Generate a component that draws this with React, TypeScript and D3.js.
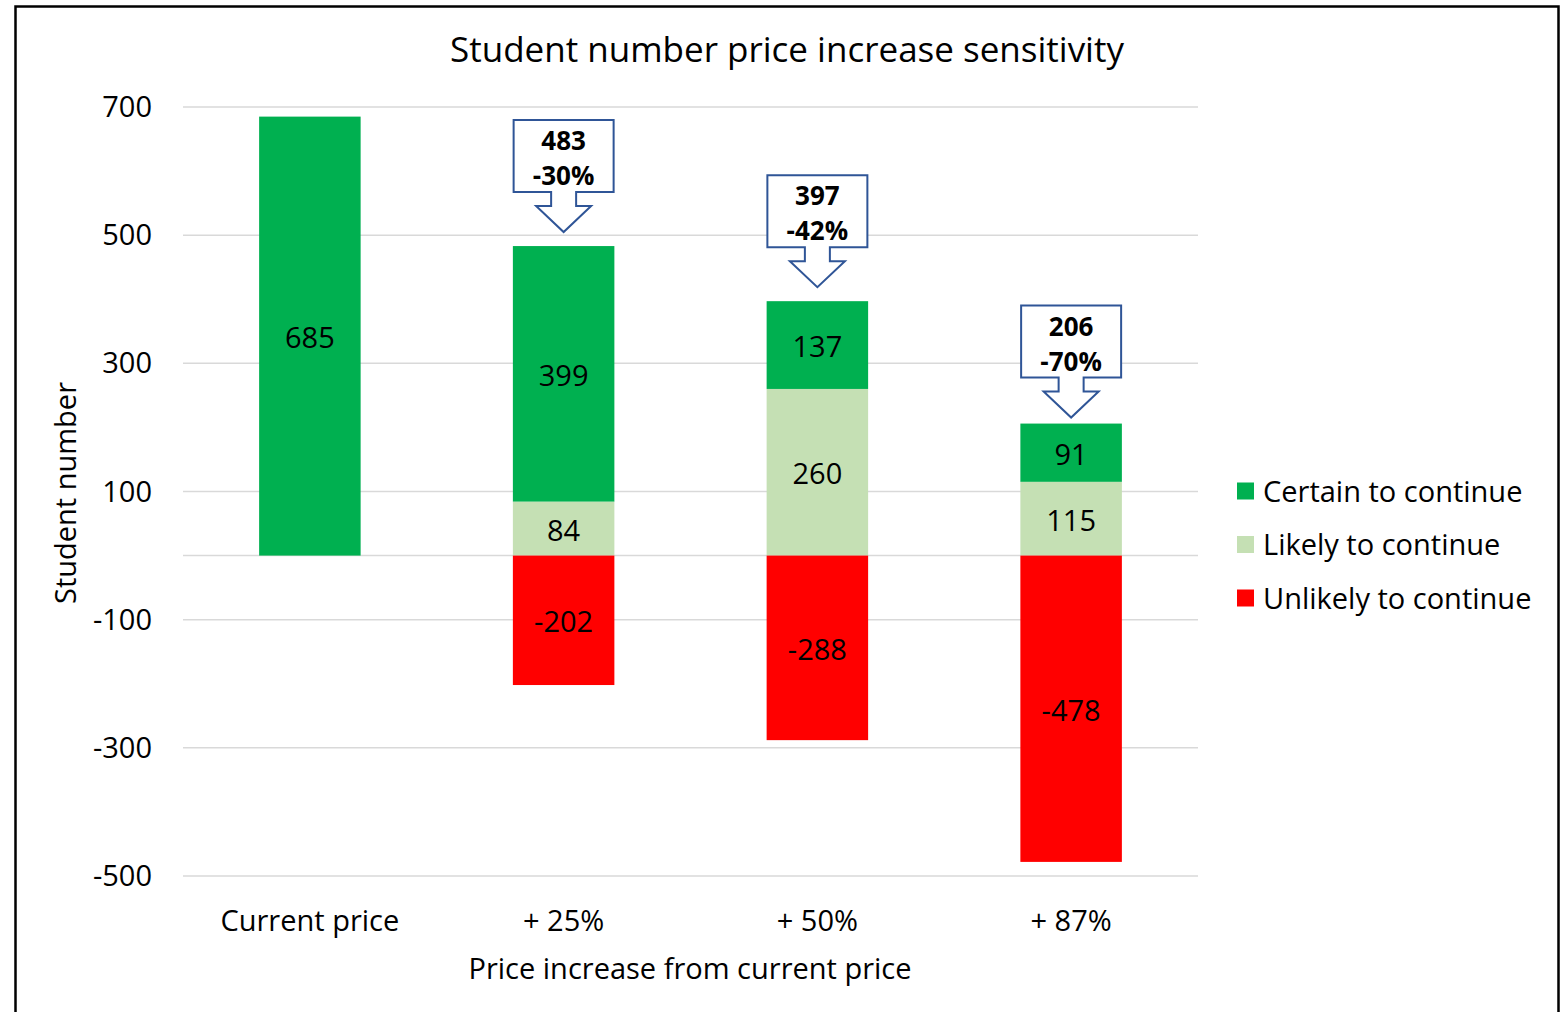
import React from "react";
import * as d3 from "d3";

const categories = ["Current price", "+ 25%", "+ 50%", "+ 87%"];
const certain = [685, 399, 137, 91];
const likely = [0, 84, 260, 115];
const unlikely = [0, -202, -288, -478];
const totals = [null, 483, 397, 206];
const changes = [null, "-30%", "-42%", "-70%"];
const yTicks = [700, 500, 300, 100, -100, -300, -500];
const seriesNames = ["Certain to continue", "Likely to continue", "Unlikely to continue"];
const seriesColors = ["#00B050", "#C5E0B4", "#FF0000"];

const FONT = "'Open Sans', sans-serif";

export default function App() {
  const W = 1565, H = 1012;
  const x = d3.scaleBand().domain(categories).range([183, 1198]).paddingInner(0.6).paddingOuter(0.3);
  const y = d3.scaleLinear().domain([-500, 700]).range([876, 107]);
  const bw = x.bandwidth();
  const cx = (c: string) => (x(c) as number) + bw / 2;

  const segs: { c: string; y0: number; y1: number; color: string; v: number }[] = [];
  categories.forEach((c, i) => {
    if (certain[i]) segs.push({ c, y0: likely[i], y1: likely[i] + certain[i], color: seriesColors[0], v: certain[i] });
    if (likely[i]) segs.push({ c, y0: 0, y1: likely[i], color: seriesColors[1], v: likely[i] });
    if (unlikely[i]) segs.push({ c, y0: unlikely[i], y1: 0, color: seriesColors[2], v: unlikely[i] });
  });

  const calloutPath = (mx: number, tipY: number) => {
    const boxW = 100, boxH = 72, stemHW = 12.5, headHW = 27.5, stemL = 14, headL = 26;
    const headTop = tipY - headL;
    const boxBottom = headTop - stemL;
    const boxTop = boxBottom - boxH;
    const pts: [number, number][] = [
      [mx - boxW / 2, boxTop], [mx + boxW / 2, boxTop], [mx + boxW / 2, boxBottom],
      [mx + stemHW, boxBottom], [mx + stemHW, headTop], [mx + headHW, headTop],
      [mx, tipY], [mx - headHW, headTop], [mx - stemHW, headTop], [mx - stemHW, boxBottom],
      [mx - boxW / 2, boxBottom],
    ];
    return { d: d3.line()(pts) + "Z", boxTop };
  };
  const tipOffsets = [0, 14, 14, 6];

  return (
    <svg width={W} height={H} style={{ position: "absolute", left: 0, top: 0, background: "#fff" }} fontFamily={FONT}>
      <rect x={0} y={0} width={W} height={H} fill="#fff" />
      <path d={`M15.5,${H + 5} V6.5 H1558.5 V${H + 5}`} fill="none" stroke="#000" strokeWidth={2.5} />
      <text x={787} y={62} textAnchor="middle" fontSize={35} fill="#000">Student number price increase sensitivity</text>

      {yTicks.map((t) => (
        <g key={t}>
          <line x1={183} x2={1198} y1={y(t)} y2={y(t)} stroke="#D9D9D9" strokeWidth={1.5} />
          <text x={152} y={y(t) + 10} textAnchor="end" fontSize={29} fill="#000">{t}</text>
        </g>
      ))}
      <line x1={183} x2={1198} y1={y(0)} y2={y(0)} stroke="#D9D9D9" strokeWidth={1.5} />

      {segs.map((s, i) => (
        <g key={i}>
          <rect x={x(s.c)} y={y(s.y1)} width={bw} height={y(s.y0) - y(s.y1)} fill={s.color} />
          <text x={cx(s.c)} y={(y(s.y1) + y(s.y0)) / 2 + 12} textAnchor="middle" fontSize={29} fill="#000">{s.v}</text>
        </g>
      ))}

      {categories.map((c, i) => {
        if (totals[i] == null) return null;
        const tip = y(totals[i] as number) - tipOffsets[i];
        const { d, boxTop } = calloutPath(cx(c), tip);
        return (
          <g key={c}>
            <path d={d} fill="#fff" stroke="#2F5597" strokeWidth={2} />
            <text x={cx(c)} y={boxTop + 30} textAnchor="middle" fontSize={26} fontWeight="bold" fill="#000">{totals[i]}</text>
            <text x={cx(c)} y={boxTop + 65} textAnchor="middle" fontSize={26} fontWeight="bold" fill="#000">{changes[i]}</text>
          </g>
        );
      })}

      {categories.map((c) => (
        <text key={c} x={cx(c)} y={931} textAnchor="middle" fontSize={29} fill="#000">{c}</text>
      ))}
      <text x={690} y={979} textAnchor="middle" fontSize={29} fill="#000">Price increase from current price</text>
      <text transform={`translate(76,493) rotate(-90)`} textAnchor="middle" fontSize={29} fill="#000">Student number</text>

      {seriesNames.map((n, i) => (
        <g key={n}>
          <rect x={1237} y={482.5 + i * 53.5} width={17} height={17} fill={seriesColors[i]} />
          <text x={1263} y={501.5 + i * 53.5} fontSize={29} fill="#000">{n}</text>
        </g>
      ))}
    </svg>
  );
}
